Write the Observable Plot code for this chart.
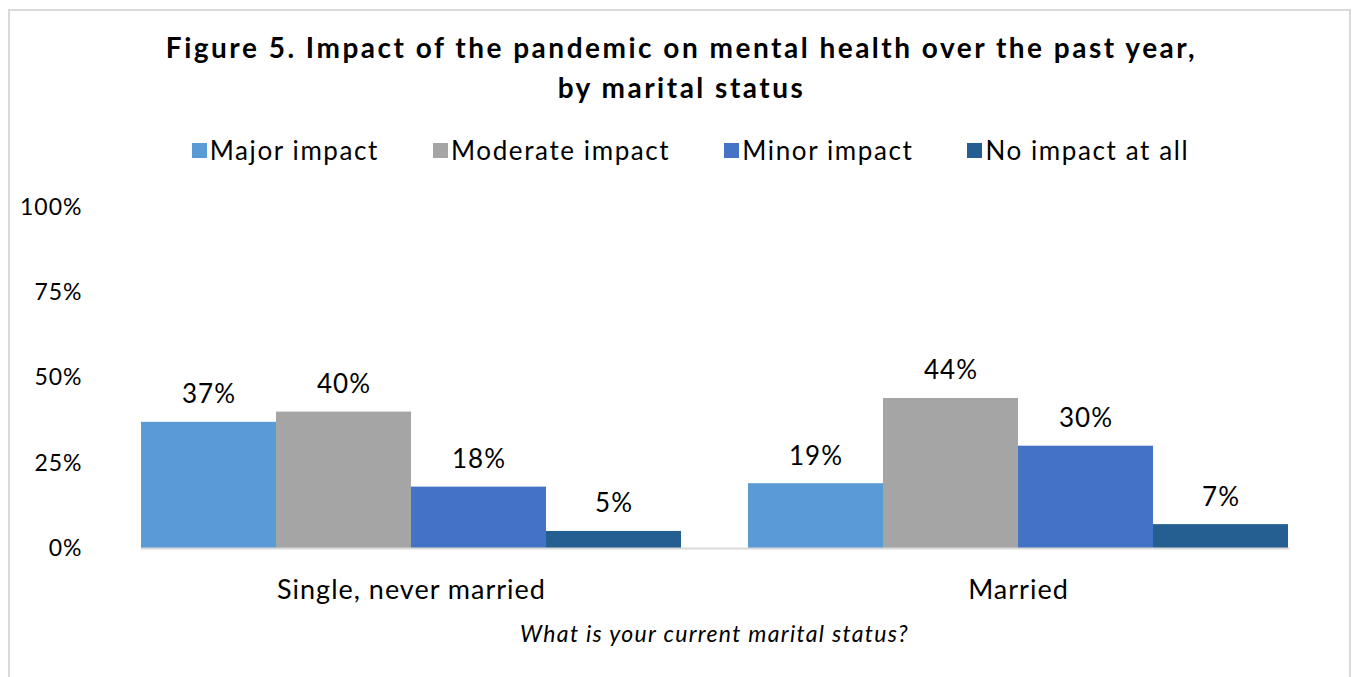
<!DOCTYPE html>
<html>
<head>
<meta charset="utf-8">
<script src="https://cdn.jsdelivr.net/npm/d3@7"></script>
<script src="https://cdn.jsdelivr.net/npm/@observablehq/plot@0.6"></script>
<style>
  html, body { margin: 0; padding: 0; background: #fff; }
  body { width: 1353px; height: 677px; position: relative; overflow: hidden; font-family: Lato, "Open Sans", sans-serif; color: #000; }
  #frame { position: absolute; left: 8px; top: 9px; width: 1343px; height: 720px; border: 2px solid #d9d9d9; box-sizing: border-box; }
  #title { position: absolute; left: 0; width: 1363px; top: 27px; text-align: center; font-weight: 700; font-size: 28px; line-height: 40px; letter-spacing: 2.5px; }
  #legend { position: absolute; left: 0; width: 1381px; top: 135px; height: 30px; display: flex; justify-content: center; align-items: center; font-size: 26px; line-height: 30px; letter-spacing: 1.6px; }
  .item { display: flex; align-items: center; margin: 0 27px; }
  .sw { width: 15px; height: 15px; margin-right: 3px; }
  #chart { position: absolute; left: 0; top: 195px; }
  #xtitle { position: absolute; left: 107px; width: 1215px; top: 618px; text-align: center; font-style: italic; font-size: 23px; line-height: 30px; letter-spacing: 1.3px; }
</style>
</head>
<body>
<div id="frame"></div>
<div id="title">Figure 5. Impact of the pandemic on mental health over the past year,<br>by marital status</div>
<div id="legend"></div>
<div id="chart"></div>
<div id="xtitle">What is your current marital status?</div>
<script>
const groups = ["Single, never married", "Married"];
const series = ["Major impact", "Moderate impact", "Minor impact", "No impact at all"];
const colors = ["#5B9BD5", "#A5A5A5", "#4472C4", "#255E91"];
const singleValues = [37, 40, 18, 5];
const marriedValues = [19, 44, 30, 7];
const yTicks = [0, 25, 50, 75, 100];

const data = [];
series.forEach((s, i) => data.push({group: groups[0], series: s, value: singleValues[i]}));
series.forEach((s, i) => data.push({group: groups[1], series: s, value: marriedValues[i]}));

const legend = document.getElementById("legend");
series.forEach((s, i) => {
  const it = document.createElement("div");
  it.className = "item";
  it.innerHTML = `<span class="sw" style="background:${colors[i]}"></span><span>${s}</span>`;
  legend.appendChild(it);
});

const plot = Plot.plot({
  width: 1353,
  height: 420,
  marginLeft: 107,
  marginRight: 31,
  marginTop: 12,
  marginBottom: 67,
  style: {fontFamily: "Lato, 'Open Sans', sans-serif", color: "#000", background: "transparent", letterSpacing: "1px", overflow: "visible"},
  fx: {domain: groups, paddingInner: 0.111, paddingOuter: 0.0555, label: null},
  x: {domain: series, padding: 0, axis: null},
  y: {domain: [0, 100], label: null},
  color: {domain: series, range: colors},
  marks: [
    Plot.barY(data, {fx: "group", x: "series", y: "value", fill: "series"}),
    Plot.frame({anchor: "bottom", stroke: "#d9d9d9", strokeWidth: 2, facet: "super"}),
    Plot.text(data, {fx: "group", x: "series", y: "value", text: d => d.value + "%", lineAnchor: "bottom", dy: -19, fontSize: 26, fill: "#000"}),
    Plot.axisY({ticks: yTicks, tickFormat: d => d + "%", tickSize: 0, tickPadding: 59, fontSize: 23, label: null}),
    Plot.axisFx({anchor: "bottom", tickSize: 0, tickPadding: 31, fontSize: 27, label: null})
  ]
});
document.getElementById("chart").appendChild(plot);
</script>
</body>
</html>
